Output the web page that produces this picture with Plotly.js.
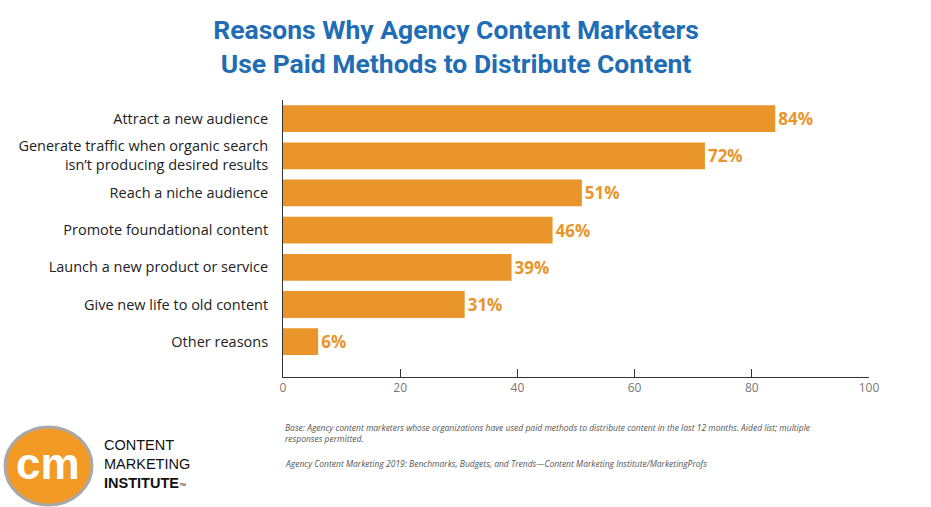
<!DOCTYPE html>
<html>
<head>
<meta charset="utf-8">
<script src="https://cdn.plot.ly/plotly-3.0.1.min.js"></script>
<style>html,body{margin:0;padding:0;background:#fff;}#chart{width:931px;height:507px;}</style>
</head>
<body>
<div id="chart"></div>
<script>
// ---- data ----
var reasons = [
  "Attract a new audience",
  "Generate traffic when organic search<br>isn’t producing desired results",
  "Reach a niche audience",
  "Promote foundational content",
  "Launch a new product or service",
  "Give new life to old content",
  "Other reasons"
];
var percents = [84, 72, 51, 46, 39, 31, 6];
var xTickVals = [0, 20, 40, 60, 80, 100];
var titleLines = ["Reasons Why Agency Content Marketers", "Use Paid Methods to Distribute Content"];
var noteLines = [
  "Base: Agency content marketers whose organizations have used paid methods to distribute content in the last 12 months. Aided list; multiple<br>responses permitted.",
  "Agency Content Marketing 2019: Benchmarks, Budgets, and Trends—Content Marketing Institute/MarketingProfs"
];
var logoLines = ["CONTENT", "MARKETING", "<b>INSTITUTE</b><span style=\"font-size:7px\">™</span>"];

// ---- layout helpers (pixel -> paper) ----
var L = 283, R = 869, T = 100, B = 377;
function px(x){ return (x - L) / (R - L); }
function py(y){ return (B - y) / (B - T); }

var orange = "#E9952A";
var blue = "#1F6DB4";

var trace = {
  type: "bar",
  orientation: "h",
  y: reasons,
  x: percents,
  width: 0.72,
  marker: {color: orange},
  text: percents.map(function(v){ return v + "%"; }),
  textposition: "outside",
  textfont: {family: "Open Sans, sans-serif", size: 17, color: orange, weight: 700},
  cliponaxis: false,
  hoverinfo: "none"
};

var annotations = [];
annotations.push({xref:"paper", yref:"paper", x:px(283), y:py(433), xanchor:"left", yanchor:"middle",
  text:"<i>"+noteLines[0]+"</i>", align:"left", showarrow:false,
  font:{family:"Open Sans, sans-serif", size:8.5, color:"#555"}});
annotations.push({xref:"paper", yref:"paper", x:px(283), y:py(463), xanchor:"left", yanchor:"middle",
  text:"<i>"+noteLines[1]+"</i>", align:"left", showarrow:false,
  font:{family:"Open Sans, sans-serif", size:8.5, color:"#555"}});
// logo text
annotations.push({xref:"paper", yref:"paper", x:px(102), y:py(464), xanchor:"left", yanchor:"middle",
  text:logoLines.join("<br>"), align:"left", showarrow:false,
  font:{family:"Liberation Sans, Arial, sans-serif", size:14.5, color:"#111"}});
annotations.push({xref:"paper", yref:"paper", x:px(48), y:py(463), xanchor:"center", yanchor:"middle",
  text:"<b>cm</b>", showarrow:false,
  font:{family:"Liberation Sans, Arial, sans-serif", size:44, color:"#ffffff"}});

var shapes = [
  {type:"circle", xref:"paper", yref:"paper", x0:px(5), x1:px(92), y0:py(427), y1:py(505),
   fillcolor:"#F39A25", line:{color:"#A8A8A8", width:3}}
];

var layout = {
  width: 931, height: 507,
  margin: {l: L, r: 931 - R, t: T, b: 507 - B, pad: 0},
  paper_bgcolor: "#ffffff", plot_bgcolor: "#ffffff",
  showlegend: false,
  title: {
    text: "<b>" + titleLines.join("<br>") + "</b>",
    x: 456/931, xanchor: "center",
    y: 1 - 38.5/507, yanchor: "middle", yref: "container",
    font: {family: "Roboto, sans-serif", size: 26.5, color: blue}
  },
  xaxis: {
    range: [0, 100], tickvals: xTickVals, ticks: "inside", ticklen: 8, tickwidth: 1, tickcolor: "#333",
    showline: true, linecolor: "#333", linewidth: 1, showgrid: false, zeroline: false,
    tickfont: {family: "Open Sans, sans-serif", size: 12, color: "#777"}, fixedrange: true
  },
  yaxis: {
    type: "category", range: [6.95, -0.5], showline: true, linecolor: "#333", linewidth: 1,
    showgrid: false, zeroline: false, ticks: "", ticklabelstandoff: 11,
    tickfont: {family: "Open Sans, sans-serif", size: 14.5, color: "#222"}, fixedrange: true
  },
  bargap: 0.28,
  annotations: annotations,
  shapes: shapes
};

Plotly.newPlot("chart", [trace], layout, {displayModeBar: false, staticPlot: true});
</script>
</body>
</html>
